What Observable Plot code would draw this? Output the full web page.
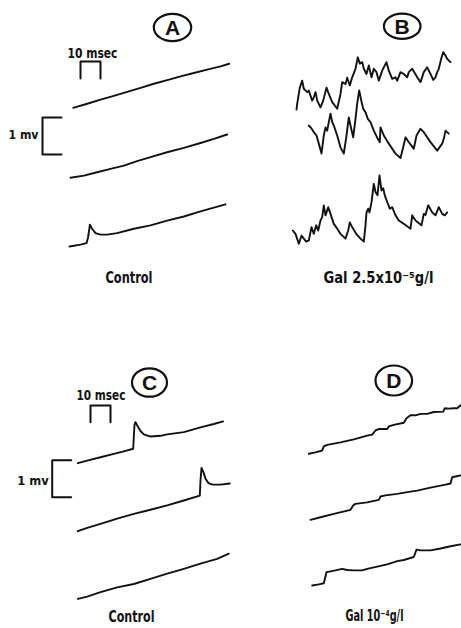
<!DOCTYPE html>
<html><head><meta charset="utf-8">
<script src="https://cdn.jsdelivr.net/npm/d3@7"></script>
<script src="https://cdn.jsdelivr.net/npm/@observablehq/plot@0.6"></script>
<style>body{margin:0;background:#fff}#chart{width:461px;height:628px}</style>
</head><body><div id="chart"></div>
<script>
// ---------- DATA (time in msec, voltage in mV, relative to trace start) ----------
const panels = ["A", "B", "C", "D"];
const panelConditions = ["Control", "Gal 2.5x10\u207B\u2075g/l", "Control", "Gal 10\u207B\u2074g/l"];
const scaleTimeMs = 10;
const scaleVoltMv = 1;
const scaleTimeLabel = "10 msec";
const scaleVoltLabel = "1 mv";

const traceA1 = [[0,0],[7,0.11],[13.7,0.22],[20.3,0.32],[27,0.43],[33.7,0.54],[40.3,0.65],[47,0.75],[53.7,0.85],[60.3,0.94],[67,1.03],[73.7,1.12],[78,1.19]];
const traceA2 = [[0,0],[6.7,0.06],[13.3,0.15],[20,0.24],[26.7,0.33],[33.3,0.45],[40,0.56],[48.3,0.69],[56.7,0.81],[65,0.94],[71.7,1.05],[78.3,1.17]];
const traceA3 = [[0,0],[5.5,0.05],[8.5,0.09],[9.3,0.25],[10.2,0.59],[11.3,0.48],[13,0.36],[15.5,0.32],[18.8,0.32],[23.8,0.36],[32.2,0.48],[40.5,0.57],[48.8,0.70],[57.2,0.81],[65.5,0.95],[72.2,1.05],[78,1.14]];

const traceB1 = [[0,0],[0.35,0.15],[1.65,0.59],[2.85,0.78],[3.65,0.56],[5.35,0.47],[6.15,0.51],[7.85,0.24],[8.65,0.33],[9.5,0.47],[10.35,0.24],[12,0.06],[13.35,0.24],[15,0.59],[16.15,0.42],[17.85,0.20],[20.35,0.02],[22,0.42],[22.85,0.74],[24.5,0.69],[25.35,0.86],[26.65,0.65],[27.85,0.87],[29.5,1.10],[30.65,1.41],[31.65,1.24],[32.85,1.28],[33.65,1.10],[35,0.96],[36.15,1.19],[37.5,0.87],[38.65,1.10],[40,1.01],[41.15,0.78],[42.85,1.05],[43.65,1.14],[45,1.28],[46.15,1.05],[47.85,0.83],[49.5,0.87],[50.35,0.78],[52,1.01],[53.65,0.96],[55.35,0.87],[56.15,1.01],[57.85,1.10],[60.35,0.87],[62,0.74],[63.65,1.01],[65.35,1.14],[67,0.96],[68.35,0.80],[69.5,0.87],[70.35,1.01],[71.15,1.10],[72.35,1.37],[73.35,1.55],[74.5,1.46],[75.35,1.37],[77,1.28]];
const traceB2 = [[0,0],[1.2,-0.07],[2.5,-0.18],[3.85,-0.27],[5,-0.49],[6.35,-0.76],[7.5,-0.27],[8.35,-0.05],[9.2,-0.14],[10,0.09],[10.85,0.32],[11.7,0.09],[12.5,0],[14.2,-0.27],[15.85,-0.59],[17.5,-0.76],[18.85,-0.27],[20,0.22],[20.85,0],[22.2,-0.32],[23.35,0.18],[24.2,0.59],[25.2,0.95],[26.2,0.68],[27.2,0.45],[28.35,0.36],[29.5,0.18],[30.85,0.09],[32.5,-0.14],[34.5,-0.36],[35.5,-0.45],[35.85,-0.05],[37.5,-0.27],[40,-0.49],[43.35,-0.76],[45.85,-0.88],[47.2,-0.59],[48.35,-0.32],[50,-0.45],[52.5,-0.63],[53.85,-0.27],[55.85,-0.09],[57.5,-0.18],[60.85,-0.45],[64.2,-0.68],[66.7,-0.49],[67.5,-0.36],[68.35,-0.14],[70,-0.22]];
const traceB3 = [[0,0],[1.35,-0.09],[3,-0.36],[4.35,-0.14],[5.5,-0.22],[6.7,-0.30],[8,-0.27],[9.35,0.09],[10.5,-0.09],[11.7,0.14],[12.7,0],[13.85,0.27],[14.7,0.36],[15.5,0.68],[16.35,0.41],[17.7,0.63],[18.85,0.45],[20.5,0.18],[22.2,0.05],[23.85,-0.09],[26.35,-0.22],[27.7,0],[28.5,0.22],[29.7,0.09],[31.7,-0.09],[33.85,-0.22],[35.5,-0.30],[36.35,0.14],[36.85,0.49],[37.7,0.59],[38.35,0.49],[39.35,0.76],[40.5,1.26],[41.35,1.04],[42.35,0.95],[43.35,1.49],[44.35,1.08],[45.2,1.14],[46,0.95],[47.2,0.77],[48.5,0.59],[49.7,0.63],[51.35,0.41],[53,0.27],[55.5,0.18],[58.85,0.05],[59.7,0.41],[61.35,0.27],[64.35,0.14],[65.5,0.45],[66.35,0.42],[67.7,0.68],[69.7,0.49],[71.35,0.41],[73,0.63],[74.7,0.45],[76,0.41],[77.2,0.49]];

const traceC1 = [[0,0],[4.7,0.07],[11.35,0.16],[18,0.25],[23,0.32],[27.7,0.39],[28,0.70],[28.35,1.04],[28.85,1.11],[29.7,1.02],[31.35,0.87],[33,0.78],[36.35,0.72],[41.35,0.74],[44.7,0.78],[53,0.84],[61.35,0.97],[68,1.06],[72.7,1.13]];
const traceC2 = [[0,0],[4.7,0.09],[11.35,0.20],[19.7,0.34],[28,0.47],[36.35,0.58],[44.7,0.70],[53,0.83],[61,0.96],[61.35,1.37],[61.85,1.71],[62.85,1.59],[63.85,1.42],[65.35,1.30],[67.35,1.26],[71.35,1.26],[76,1.29]];
const traceC3 = [[0,0],[4.7,0.06],[11.35,0.18],[19.7,0.31],[28,0.40],[36.35,0.54],[44.7,0.68],[53,0.81],[61.35,0.95],[69.7,1.08],[75.5,1.22]];

const traceD1 = [[0,0],[3.35,0.04],[6.7,0.09],[7.5,0.20],[9.2,0.24],[15.85,0.31],[22.5,0.39],[29.2,0.49],[31.7,0.52],[33.35,0.63],[35,0.67],[39.2,0.67],[40,0.74],[42.5,0.78],[47.5,0.84],[48.85,0.96],[50.85,1.04],[53.35,1.04],[55.85,1.08],[59.2,1.08],[62.5,1.13],[67.2,1.14],[68,1.23],[70,1.22],[72.5,1.23],[74.2,1.23],[75.85,1.31]];
const traceD2 = [[0,0],[5,0.07],[11.65,0.16],[20,0.27],[21.35,0.39],[22.5,0.43],[28.35,0.47],[34.15,0.54],[35,0.63],[37.5,0.66],[43.35,0.70],[50,0.76],[53.35,0.79],[60,0.87],[67.5,0.95],[70,0.98],[70.85,1.15],[72.5,1.17],[75,1.20]];
const traceD3 = [[0,0],[3.3,0.03],[5.8,0.06],[7.15,0.36],[9.15,0.38],[11.65,0.41],[15,0.45],[17.5,0.42],[20.8,0.41],[25,0.41],[27.5,0.45],[32.5,0.51],[37.5,0.57],[42.5,0.66],[45.8,0.69],[50.8,0.77],[52.15,0.97],[54.15,0.95],[59.15,0.95],[64.15,1.00],[69.15,1.06],[74.15,1.11]];

// ---------- LAYOUT (page pixels) ----------
const W = 461, H = 628;
const PX_PER_MS = 2, PX_PER_MV = 37;
const X = px => px / PX_PER_MS;
const Y = py => (H - py) / PX_PER_MV;

const traceLayout = [
  {data: traceA1, o: [72.7, 107.3]}, {data: traceA2, o: [70, 177.3]}, {data: traceA3, o: [69, 246]},
  {data: traceB1, o: [296, 109]}, {data: traceB2, o: [308.3, 125]}, {data: traceB3, o: [292.3, 230]},
  {data: traceC1, o: [77.3, 462.7]}, {data: traceC2, o: [77.3, 530.7]}, {data: traceC3, o: [77.3, 598.3]},
  {data: traceD1, o: [308.3, 453.3]}, {data: traceD2, o: [310, 519.3]}, {data: traceD3, o: [311.7, 585]}
];
const timeBars = [{o: [80, 78], leg: 17}, {o: [90, 421.7], leg: 16.7}];
const voltBars = [{o: [42, 154], arm: 19}, {o: [51.7, 496.7], arm: 19}];
const circles = [
  {p: 0, c: [172, 27], rx: 18.7, ry: 13.7},
  {p: 1, c: [401.7, 25.8], rx: 18.3, ry: 12.6},
  {p: 2, c: [149, 382], rx: 17.5, ry: 14.2},
  {p: 3, c: [393.3, 380], rx: 18.3, ry: 15}
];
const conditionPos = [[128.5, 277.5, 47], [378, 278, 110], [131, 617, 46], [374, 616, 58]];
const timeLabelPos = [[92, 53, 50], [100.5, 395, 49]];
const voltLabelPos = [[23, 134, 30], [32.5, 480, 31.5]];

// ---------- helpers ----------
const ellipseSymbol = ratio => ({
  draw(ctx, size) {
    const ry = Math.sqrt(size / Math.PI), rx = ry * ratio, k = 0.5523;
    ctx.moveTo(rx, 0);
    ctx.bezierCurveTo(rx, k * ry, k * rx, ry, 0, ry);
    ctx.bezierCurveTo(-k * rx, ry, -rx, k * ry, -rx, 0);
    ctx.bezierCurveTo(-rx, -k * ry, -k * rx, -ry, 0, -ry);
    ctx.bezierCurveTo(k * rx, -ry, rx, -k * ry, rx, 0);
    ctx.closePath();
  }
});
function textFit(rows, opts) {
  return Plot.text(rows, {
    ...opts,
    render: (index, scales, values, dims, context, next) => {
      const g = next(index, scales, values, dims, context);
      const texts = g.tagName === "text" ? [g] : Array.from(g.querySelectorAll("text"));
      texts.forEach((t, i) => {
        t.setAttribute("lengthAdjust", "spacingAndGlyphs");
        t.setAttribute("textLength", rows[index[i]].w);
      });
      return g;
    }
  });
}

const labelFont = "'Liberation Sans Narrow', 'DejaVu Sans Condensed', 'Liberation Sans', sans-serif";
const black = "#111";

const marks = [];
traceLayout.forEach(tr => {
  marks.push(Plot.line(tr.data, {
    x: d => X(tr.o[0]) + d[0],
    y: d => Y(tr.o[1]) + d[1],
    stroke: black, strokeWidth: 1.9, strokeLinejoin: "round", strokeLinecap: "round"
  }));
});
timeBars.forEach(b => {
  const legMv = b.leg / PX_PER_MV;
  const shape = [[0, 0], [0, legMv], [scaleTimeMs, legMv], [scaleTimeMs, 0]];
  marks.push(Plot.line(shape, {x: d => X(b.o[0]) + d[0], y: d => Y(b.o[1]) + d[1], stroke: black, strokeWidth: 2}));
});
voltBars.forEach(b => {
  const armMs = b.arm / PX_PER_MS;
  const shape = [[armMs, 0], [0, 0], [0, scaleVoltMv], [armMs, scaleVoltMv]];
  marks.push(Plot.line(shape, {x: d => X(b.o[0]) + d[0], y: d => Y(b.o[1]) + d[1], stroke: black, strokeWidth: 2}));
});
circles.forEach(c => {
  marks.push(Plot.dot([c], {x: d => X(d.c[0]), y: d => Y(d.c[1]), r: c.ry, symbol: ellipseSymbol(c.rx / c.ry), stroke: black, strokeWidth: 2.2, fill: "none"}));
});
marks.push(Plot.text(circles, {x: d => X(d.c[0]), y: d => Y(d.c[1]), text: d => panels[d.p], fontSize: 21, fontWeight: "bold", fontFamily: "'Liberation Sans', Arial, sans-serif", fill: black, dy: 1}));

const condRows = panelConditions.map((t, i) => ({t, x: conditionPos[i][0], y: conditionPos[i][1], w: conditionPos[i][2]}));
marks.push(textFit(condRows, {x: d => X(d.x), y: d => Y(d.y), text: "t", fontSize: 15, fontWeight: "bold", fontFamily: labelFont, fill: black}));
const timeRows = timeLabelPos.map(p => ({t: scaleTimeLabel, x: p[0], y: p[1], w: p[2]}));
marks.push(textFit(timeRows, {x: d => X(d.x), y: d => Y(d.y), text: "t", fontSize: 14, fontWeight: "bold", fontFamily: labelFont, fill: black}));
const voltRows = voltLabelPos.map(p => ({t: scaleVoltLabel, x: p[0], y: p[1], w: p[2]}));
marks.push(textFit(voltRows, {x: d => X(d.x), y: d => Y(d.y), text: "t", fontSize: 13, fontWeight: "bold", fontFamily: labelFont, fill: black}));

const chart = Plot.plot({
  width: W, height: H,
  margin: 0,
  x: {domain: [0, W / PX_PER_MS], axis: null},
  y: {domain: [0, H / PX_PER_MV], axis: null},
  style: {background: "#fff", overflow: "visible"},
  marks
});
document.getElementById("chart").appendChild(chart);
</script>
</body></html>
